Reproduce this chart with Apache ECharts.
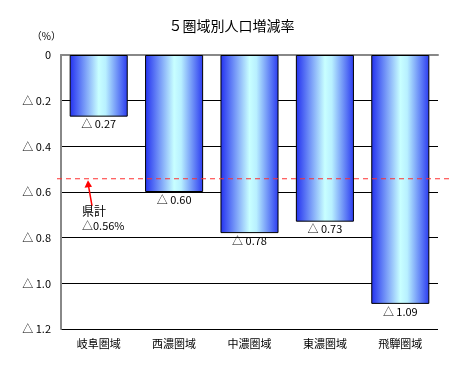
<!DOCTYPE html>
<html><head><meta charset="utf-8">
<script src="https://cdn.jsdelivr.net/npm/echarts@6/dist/echarts.min.js"></script>
<style>html,body{margin:0;padding:0;background:#fff}#c{width:463px;height:378px}</style>
</head><body><div id="c"></div>
<script>
const categories = ['岐阜圏域','西濃圏域','中濃圏域','東濃圏域','飛騨圏域'];
const decreaseRates = [0.27, 0.60, 0.78, 0.73, 1.09];
const prefTotal = 0.56;
const prefLineDrawn = 0.542; // where the dashed line is drawn in the picture
const yTicks = [0, 0.2, 0.4, 0.6, 0.8, 1.0, 1.2];

const font = '"Noto Sans CJK JP", sans-serif';
const chart = echarts.init(document.getElementById('c'));
const barGrad = new echarts.graphic.LinearGradient(0,0,1,0,[
  {offset:0,color:'#2230f0'},{offset:0.5,color:'#c8ffff'},{offset:0.62,color:'#b8f0ff'},{offset:1,color:'#2a3af0'}]);
chart.setOption({
  animation:false,
  title:{text:'５圏域別人口増減率',left:'center',top:14,textStyle:{fontFamily:font,fontSize:14,fontWeight:'normal',color:'#000'}},
  grid:{left:61,right:25,top:55,bottom:49},
  xAxis:{type:'category',data:categories,
    axisLine:{lineStyle:{color:'#888',width:2}},axisTick:{show:false},
    axisLabel:{fontFamily:font,fontSize:11,color:'#000',margin:9}},
  yAxis:{type:'value',inverse:true,min:yTicks[0],max:yTicks[yTicks.length-1],interval:0.2,
    name:'（%）',nameLocation:'start',nameGap:14,nameTextStyle:{fontFamily:font,fontSize:10,color:'#000',align:'right',padding:[0,0,0,0]},
    axisLine:{show:true,lineStyle:{color:'#888',width:2}},axisTick:{show:false},
    splitLine:{lineStyle:{color:'#000',width:1}},
    axisLabel:{fontFamily:font,fontSize:11,color:'#000',margin:10,
      formatter:v=>v===0?'0':'△ '+v.toFixed(1)}},
  series:[{type:'bar',data:decreaseRates,barWidth:'77%',
    itemStyle:{color:barGrad,borderColor:'#000',borderWidth:1},
    label:{show:true,position:'bottom',distance:2,fontFamily:font,fontSize:11,color:'#000',
      formatter:p=>'△ '+p.value.toFixed(2)}}]
});
const yPix = chart.convertToPixel({yAxisIndex:0}, prefLineDrawn);
chart.setOption({graphic:[
  {type:'line',shape:{x1:57,y1:yPix,x2:450,y2:yPix},style:{stroke:'#ff3030',lineWidth:1,lineDash:[5,4]},z:100},
  {type:'line',shape:{x1:92,y1:yPix+27,x2:88.5,y2:yPix+7},style:{stroke:'#ff0000',lineWidth:1.5},z:100},
  {type:'polygon',shape:{points:[[88,yPix+1.5],[84.5,yPix+9],[92,yPix+8]]},style:{fill:'#ff0000'},z:100},
  {type:'text',x:82,y:yPix+27,style:{text:'県計',font:'12px '+font,fill:'#000'},z:100},
  {type:'text',x:82,y:yPix+42,style:{text:'△'+prefTotal.toFixed(2)+'%',font:'11px '+font,fill:'#000'},z:100}
]});
</script></body></html>
